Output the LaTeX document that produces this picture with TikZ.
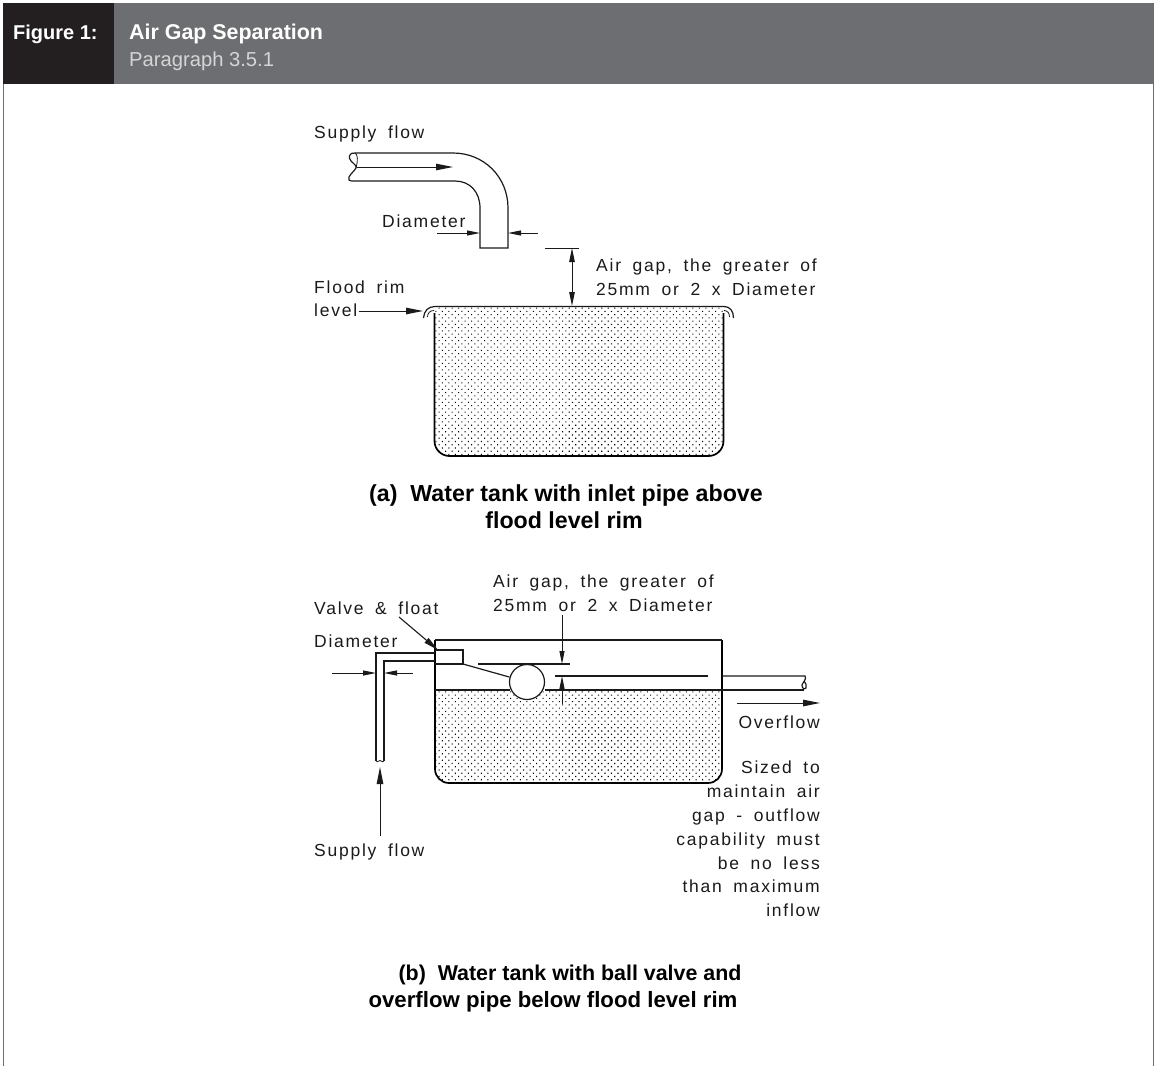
\documentclass[tikz,border=0pt]{standalone}
\usepackage{fontspec}
\setmainfont{Liberation Sans}
\newfontfamily\lab[LetterSpace=10,WordSpace=1.75]{Liberation Sans}
\usetikzlibrary{arrows.meta,patterns.meta}
\definecolor{hdrdark}{HTML}{231F20}
\definecolor{hdrgrey}{HTML}{6D6E71}
\definecolor{hdrsub}{HTML}{D4D5D6}
\definecolor{ink}{HTML}{1A1A1A}
\tikzset{
  every picture/.append style={x=1pt,y=-1pt},
  lbl/.style={inner sep=0pt,text=ink,font=\fontsize{17.5}{17.5}\selectfont\lab},
  lblw/.style={lbl,anchor=base west},
  lble/.style={lbl,anchor=base east},
  captxt/.style={inner sep=0pt,anchor=base,text=black,font=\fontsize{23.2}{23.2}\selectfont\bfseries},
  hdr/.style={inner sep=0pt,anchor=base west,text=white,font=\fontsize{20}{20}\selectfont\bfseries},
  pipe/.style={line width=1.2pt,draw=ink},
  wall/.style={line width=1.7pt,draw=black},
  thinline/.style={line width=1pt,draw=ink},
  arr/.style={line width=1pt,draw=ink,-{Triangle[length=17pt,width=6.5pt]}},
  arrs/.style={line width=1pt,draw=ink,-{Triangle[length=13pt,width=5pt]}},
  water/.style={pattern={Dots[distance=4.6pt,radius=0.75pt,angle=45]},pattern color=black},
}
\begin{document}
\begin{tikzpicture}
\useasboundingbox (0,0) rectangle (1154,1066);
% header
\fill[hdrgrey] (114,3) rectangle (1154,84);
\fill[hdrdark] (3,3) rectangle (114,84);
\draw[line width=1.4pt,draw=hdrgrey] (3.7,84) -- (3.7,1066);
\draw[line width=1.4pt,draw=hdrgrey] (1153.3,84) -- (1153.3,1066);
\node[hdr] (fig) at (13,39) {Figure 1:};
\node[hdr,font=\fontsize{21.4}{21.4}\selectfont\bfseries] (ttl) at (129,39) {Air Gap Separation};
\node[hdr,text=hdrsub,font=\fontsize{20.2}{20.2}\selectfont\mdseries] (par) at (129,66) {Paragraph 3.5.1};

% ---------- (a) tank ----------
\path[water] (435,307) -- (723,307) -- (723,441) arc[start angle=0,end angle=90,radius=15] -- (450,456) arc[start angle=90,end angle=180,radius=15] -- cycle;
\draw[wall] (434.5,313) -- (434.5,441) arc[start angle=180,end angle=90,radius=15] -- (708.5,456) arc[start angle=90,end angle=0,radius=15] -- (723.5,313);
\draw[pipe] (423.5,318) .. controls (424,311) and (428,306.5) .. (435,306.5) -- (724,306.5) .. controls (730,306.5) and (733.5,311) .. (733.5,318);
\draw[line width=.8pt,draw=ink] (427.5,317) .. controls (427.5,313) and (430,310.5) .. (434,310.5);
\draw[line width=.8pt,draw=ink] (724,310.5) .. controls (727.5,310.5) and (729.5,313) .. (729.5,317);
% supply pipe
\draw[pipe] (355,153) -- (453,153) .. controls (484,153) and (508,177) .. (508,208) -- (508,248) -- (480,248) -- (480,208) .. controls (480,192) and (470,181) .. (455,181) -- (353,181);
\draw[pipe] (355,153) .. controls (349,152) and (348,158) .. (351,161) .. controls (354,164) and (357,166) .. (356,168) .. controls (354,172) and (347,176) .. (349,180) .. controls (350,181) and (352,181) .. (353,181);
\draw[line width=.8pt,draw=ink] (355,153) .. controls (358,155) and (358,160) .. (356,168);
\coordinate (sa) at (357,167); \coordinate (sb) at (453,167);
\draw[arr] (sa) -- (sb);
\coordinate (da1) at (437,233); \coordinate (da2) at (480,233);
\coordinate (da3) at (538,233); \coordinate (da4) at (508,233);
\draw[arrs] (da1) -- (da2);
\draw[arrs] (da3) -- (da4);
\draw[thinline] (545,248) -- (579,248);
\coordinate (ga1) at (572,248); \coordinate (ga2) at (572,306);
\draw[line width=1pt,draw=ink,{Triangle[length=14pt,width=5.5pt]}-{Triangle[length=14pt,width=5.5pt]}] (ga1) -- (ga2);
\coordinate (fl1) at (359,311); \coordinate (fl2) at (423,311);
\draw[arr] (fl1) -- (fl2);

\node[lblw] (a1) at (314,138) {Supply flow};
\node[lblw] (a2) at (382,227) {Diameter};
\node[lblw] (a3) at (596,271) {Air gap, the greater of};
\node[lblw] (a4) at (596,295) {25mm or 2 x Diameter};
\node[lblw] (a5) at (314,293) {Flood rim};
\node[lblw] (a6) at (314,316) {level};
\node[captxt] (capa1) at (566,501) {(a)\ \ Water tank with inlet pipe above};
\node[captxt] (capa2) at (564,528) {flood level rim};

% ---------- (b) tank ----------
\path[water] (435,690) -- (722,690) -- (722,769) arc[start angle=0,end angle=90,radius=14] -- (449,783) arc[start angle=90,end angle=180,radius=14] -- cycle;
\draw[wall] (435,640) -- (435,769) arc[start angle=180,end angle=90,radius=14] -- (708,783) arc[start angle=90,end angle=0,radius=14] -- (722,640);
\draw[pipe] (435,640) -- (722,640);
\draw[pipe] (435,690) -- (510,690);
\draw[pipe] (545,690) -- (722,690);
% valve + float
\draw[pipe] (435,650) -- (463,650) -- (463,664) -- (435,664);
\node[circle,draw=ink,line width=1.2pt,minimum size=35pt,inner sep=0pt,fill=white] (ball) at (527,682) {};
\coordinate (vc) at (463,664);
\draw[pipe] (vc) -- (ball);
\draw[pipe] (478,664) -- (570,664);
\draw[pipe] (555,676) -- (708,676);
% supply pipe b
\draw[pipe] (435,653) -- (376,653) -- (376,761);
\draw[pipe] (435,661) -- (384,661) -- (384,761);
\draw[line width=.8pt,draw=ink] (376,761) .. controls (378,763) and (380,759) .. (381,761) .. controls (382,762) and (383,762) .. (384,761);
% overflow pipe
\draw[pipe] (722,676) -- (805,676) .. controls (807,679) and (803,682) .. (802,685) .. controls (802,688) and (804,690) .. (806,688) .. controls (807,686) and (806,683) .. (804,681);
\draw[pipe] (722,690) -- (804,690);
% arrows b
\coordinate (v1) at (399,617); \coordinate (v2) at (438,650);
\draw[line width=1.1pt,draw=ink,-{Triangle[length=15pt,width=6pt]}] (v1) -- (v2);
\coordinate (db1) at (332,673); \coordinate (db2) at (376,673);
\coordinate (db3) at (413,673); \coordinate (db4) at (384,673);
\draw[arrs] (db1) -- (db2);
\draw[arrs] (db3) -- (db4);
\coordinate (gb1) at (562,615); \coordinate (gb2) at (562,664);
\coordinate (gb3) at (562,704); \coordinate (gb4) at (562,676);
\draw[arrs] (gb1) -- (gb2);
\draw[arrs] (gb3) -- (gb4);
\coordinate (sf1) at (380,836); \coordinate (sf2) at (380,767);
\draw[arr] (sf1) -- (sf2);
\coordinate (of1) at (737,703); \coordinate (of2) at (820,703);
\draw[arr] (of1) -- (of2);

\node[lblw] (b1) at (493,587) {Air gap, the greater of};
\node[lblw] (b2) at (493,611) {25mm or 2 x Diameter};
\node[lblw] (b3) at (314,614) {Valve \& float};
\node[lblw] (b4) at (314,647) {Diameter};
\node[lblw] (b5) at (314,856) {Supply flow};
\node[lble] (b6) at (820,728) {Overflow};
\node[lble] (b7) at (820,773) {Sized to};
\node[lble] (b8) at (820,797) {maintain air};
\node[lble] (b9) at (820,821) {gap - outflow};
\node[lble] (b10) at (820,845) {capability must};
\node[lble] (b11) at (820,869) {be no less};
\node[lble] (b12) at (820,892) {than maximum};
\node[lble] (b13) at (820,916) {inflow};
\node[captxt,font=\fontsize{21.4}{21.4}\selectfont\bfseries] (capb1) at (570,980) {(b)\ \ Water tank with ball valve and};
\node[captxt,font=\fontsize{22.2}{22.2}\selectfont\bfseries] (capb2) at (553,1007) {overflow pipe below flood level rim};
\end{tikzpicture}
\end{document}
